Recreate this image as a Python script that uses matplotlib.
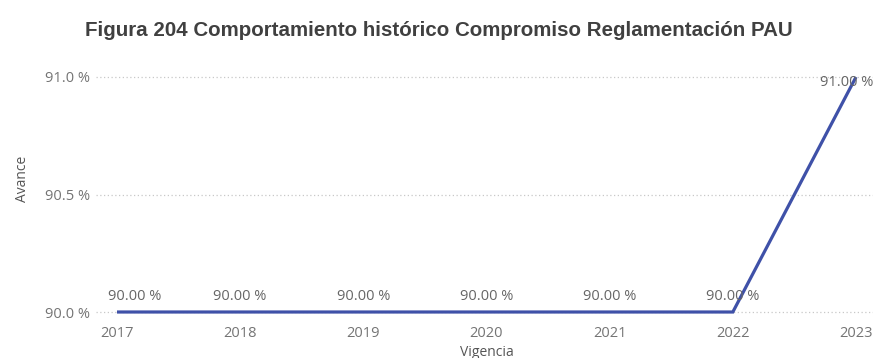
import matplotlib
matplotlib.use("Agg")
import matplotlib.pyplot as plt

years = [2017, 2018, 2019, 2020, 2021, 2022, 2023]
avance = [90.00, 90.00, 90.00, 90.00, 90.00, 90.00, 91.00]
value_labels = ["90.00 %", "90.00 %", "90.00 %", "90.00 %", "90.00 %", "90.00 %", "91.00 %"]
y_ticks = [90.0, 90.5, 91.0]
y_tick_labels = ["90.0 %", "90.5 %", "91.0 %"]

W, H = 873, 358
fig = plt.figure(figsize=(W / 100, H / 100), dpi=100)
fig.patch.set_facecolor("white")

# axes box in pixel terms
left, right, top, bottom = 96, 873, 60, 325
ax = fig.add_axes([left / W, 1 - bottom / H, (right - left) / W, (bottom - top) / H])

x0_px, x1_px = 117, 856
px_per_year = (x1_px - x0_px) / 6
ax.set_xlim(2017 - (x0_px - left) / px_per_year, 2023 + (right - x1_px) / px_per_year)
y91_px, y90_px = 77, 312
px_per_unit = y90_px - y91_px
ax.set_ylim(90.0 - (bottom - y90_px) / px_per_unit, 91.0 + (y91_px - top) / px_per_unit)

for s in ax.spines.values():
    s.set_visible(False)

tick_color = "#747474"
font = "Open Sans"

ax.set_yticks(y_ticks)
ax.set_yticklabels(y_tick_labels, fontsize=10.5, color=tick_color, family=font)
ax.set_xticks(years)
ax.set_xticklabels([str(y) for y in years], fontsize=10.5, color=tick_color, family=font)
ax.tick_params(axis="both", length=0)
ax.tick_params(axis="y", pad=4)
ax.tick_params(axis="x", pad=0.5)

ax.grid(axis="y", color="#C8C8C8", linestyle=(0, (1, 2)), linewidth=0.9)
ax.set_axisbelow(True)

ax.plot(years, avance, color="#3F51A8", linewidth=2.3, solid_joinstyle="miter",
        solid_capstyle="butt", zorder=3)

# value labels: centred above each point, nudged inward at the edges
px = 0.72
offsets = [(18, 8, "center", "bottom"), (0, 8, "center", "bottom"),
           (0, 8, "center", "bottom"), (0, 8, "center", "bottom"),
           (0, 8, "center", "bottom"), (0, 8, "center", "bottom"),
           (17, -5, "right", "center")]
for x, v, lab, (dx, dy, ha, va) in zip(years, avance, value_labels, offsets):
    ax.annotate(lab, (x, v), xytext=(dx * px, dy * px), textcoords="offset points",
                ha=ha, va=va, fontsize=10.5, color="#666666", family=font,
                zorder=4, annotation_clip=False)

ax.set_ylabel("Avance", fontsize=10, color="#555555", family=font)
ax.yaxis.set_label_coords(23 / W, 0.5, transform=fig.transFigure)
ax.set_xlabel("Vigencia", fontsize=10, color="#555555", family=font)
ax.xaxis.set_label_coords(487 / W, 1 - 352 / H, transform=fig.transFigure)
ax.xaxis.label.set_va("center")
ax.yaxis.label.set_va("center")

fig.text(439 / W, 1 - 31 / H, "Figura 204 Comportamiento histórico Compromiso Reglamentación PAU",
         ha="center", va="center", fontsize=14.8, fontweight="bold",
         family="Liberation Sans", color="#404040")

fig.savefig("out.png", dpi=100, facecolor="white")
